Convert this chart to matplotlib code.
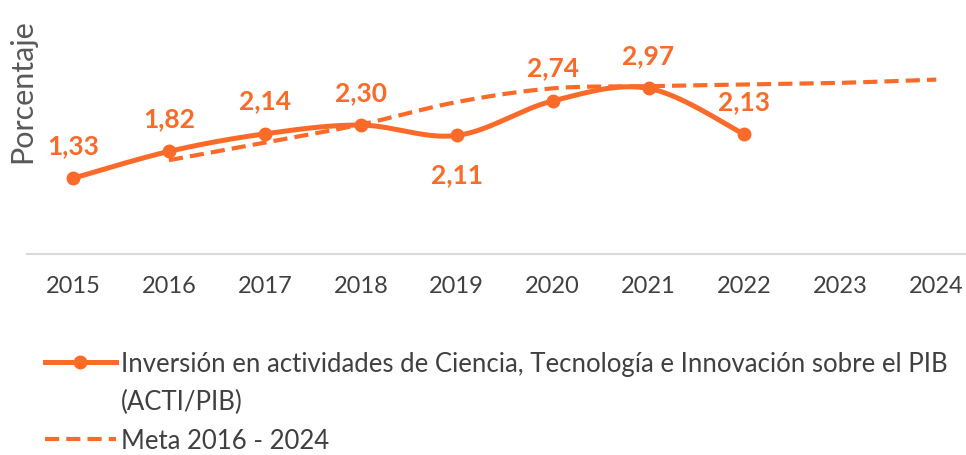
import numpy as np
import matplotlib.pyplot as plt
from matplotlib.lines import Line2D

years = [2015, 2016, 2017, 2018, 2019, 2020, 2021, 2022, 2023, 2024]
acti_pib = [1.33, 1.82, 2.14, 2.30, 2.11, 2.74, 2.97, 2.13]
meta_years = [2016, 2017, 2018, 2019, 2020, 2021, 2022, 2023, 2024]
meta = [1.66, 1.98, 2.31, 2.72, 2.97, 3.01, 3.04, 3.07, 3.13]
label_below = [2019]

ORANGE = '#FA6A28'
plt.rcParams['font.family'] = ['Lato', 'DejaVu Sans']


def smooth(xs, ys, n=30):
    # Bezier smoothing similar to spreadsheet "smoothed line"
    xs = np.asarray(xs, float)
    ys = np.asarray(ys, float)
    pts = np.column_stack([xs, ys])
    out = []
    for i in range(len(pts) - 1):
        p0 = pts[max(i - 1, 0)]
        p1 = pts[i]
        p2 = pts[i + 1]
        p3 = pts[min(i + 2, len(pts) - 1)]
        c1 = p1 + (p2 - p0) / 6
        c2 = p2 - (p3 - p1) / 6
        t = np.linspace(0, 1, n)[:, None]
        seg = ((1 - t) ** 3) * p1 + 3 * ((1 - t) ** 2) * t * c1 + 3 * (1 - t) * t ** 2 * c2 + t ** 3 * p2
        out.append(seg if i == 0 else seg[1:])
    out = np.vstack(out)
    return out[:, 0], out[:, 1]


fig = plt.figure(figsize=(9.66, 4.56), dpi=100)
ax = fig.add_axes([0.028, 0.441, 0.972, 0.559])

x_acti = np.arange(len(acti_pib))
x_meta = np.array([years.index(y) for y in meta_years])

sx, sy = smooth(x_meta, meta)
meta_line, = ax.plot(sx, sy, color=ORANGE, lw=3.0, ls=(0, (3.4, 1.7)), solid_capstyle='butt')
sx, sy = smooth(x_acti, acti_pib)
ax.plot(sx, sy, color=ORANGE, lw=3.6, zorder=3)
ax.plot(x_acti, acti_pib, 'o', color=ORANGE, ms=9, zorder=4)
acti_handle = Line2D([], [], color=ORANGE, lw=3.6, marker='o', ms=9)
blank = Line2D([], [], color='none')

for i, v in enumerate(acti_pib):
    txt = f'{v:.2f}'.replace('.', ',')
    dy = -28 if years[i] in label_below else 24
    ax.annotate(txt, (i, v), xytext=(0, dy), textcoords='offset points',
                ha='center', va='center', color=ORANGE, fontsize=19, fontweight='bold')

ax.set_xlim(-0.48, len(years) - 1 + 0.31)
ax.set_ylim(-0.05, 4.6)
ax.set_xticks(range(len(years)))
ax.set_xticklabels([str(y) for y in years], fontsize=17, color='#404040')
ax.tick_params(axis='x', length=0, pad=15)
ax.set_yticks([])
for s in ['top', 'right', 'left']:
    ax.spines[s].set_visible(False)
ax.spines['bottom'].set_color('#D9D9D9')
ax.spines['bottom'].set_linewidth(1.5)

fig.text(0.023, 0.80, 'Porcentaje', rotation=90, ha='center', va='center',
         fontsize=22, color='#595959')

fig.legend([acti_handle, blank, meta_line],
           ['Inversión en actividades de Ciencia, Tecnología e Innovación sobre el PIB',
            '(ACTI/PIB)',
            'Meta 2016 - 2024'],
           loc='upper left', bbox_to_anchor=(0.028, 0.268), frameon=False,
           fontsize=18.5, labelcolor='#404040', handlelength=2.75, handletextpad=0.2,
           labelspacing=0.52, borderpad=0.2)

fig.savefig('out.png', dpi=100)
